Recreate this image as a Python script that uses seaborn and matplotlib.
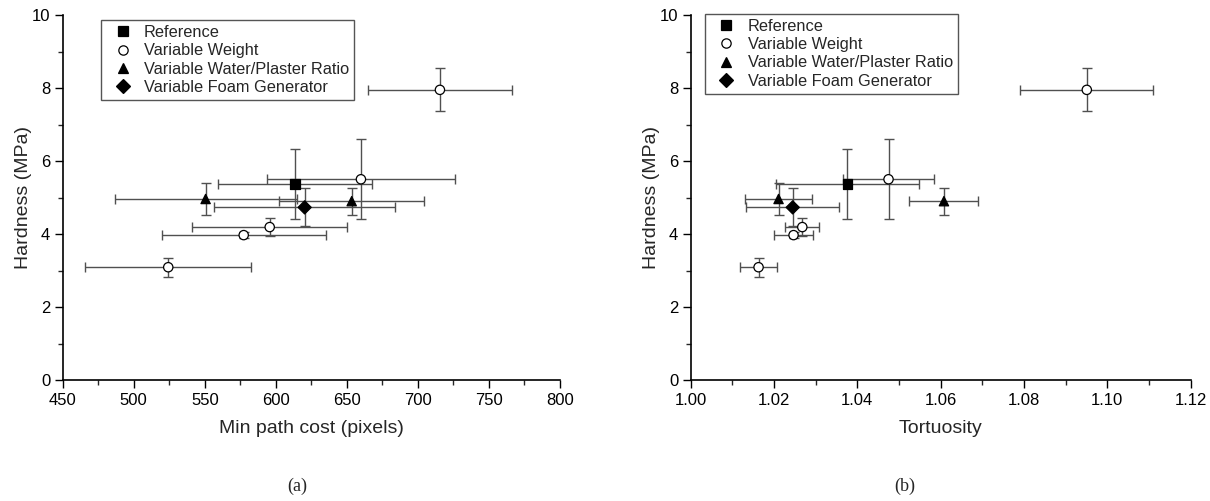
import pandas as pd
import matplotlib
matplotlib.use("Agg")
import matplotlib.pyplot as plt
from matplotlib.ticker import MultipleLocator, FormatStrFormatter
import seaborn as sns

# Data
groups = ["Reference",
          "Variable Weight", "Variable Weight", "Variable Weight", "Variable Weight", "Variable Weight",
          "Variable Water/Plaster Ratio", "Variable Water/Plaster Ratio",
          "Variable Foam Generator"]
hardness = [5.37, 7.95, 5.50, 4.19, 3.97, 3.09, 4.96, 4.90, 4.73]
hardness_err = [0.95, 0.59, 1.09, 0.24, 0.08, 0.26, 0.45, 0.37, 0.52]
path_cost = [613.5, 715.5, 659.9, 595.7, 577.4, 524.3, 550.6, 653.4, 620.3]
path_cost_err = [54.0, 50.5, 66.0, 54.4, 57.6, 58.4, 64.0, 51.0, 63.5]
tortuosity = [1.0376, 1.0951, 1.0475, 1.0268, 1.0247, 1.0163, 1.0211, 1.0608, 1.0245]
tortuosity_err = [0.0172, 0.0160, 0.0110, 0.0041, 0.0047, 0.0044, 0.0080, 0.0083, 0.0112]

df = pd.DataFrame({"group": groups, "hardness": hardness, "hardness_err": hardness_err,
                   "path_cost": path_cost, "path_cost_err": path_cost_err,
                   "tortuosity": tortuosity, "tortuosity_err": tortuosity_err})

group_order = ["Reference", "Variable Weight", "Variable Water/Plaster Ratio", "Variable Foam Generator"]
markers = {"Reference": "s", "Variable Weight": "o",
           "Variable Water/Plaster Ratio": "^", "Variable Foam Generator": "D"}
palette = {"Reference": "black", "Variable Weight": "white",
           "Variable Water/Plaster Ratio": "black", "Variable Foam Generator": "black"}

sns.set_style("ticks")
plt.rcParams["font.family"] = ["Liberation Sans", "DejaVu Sans"]

fig = plt.figure(figsize=(12.1, 5.01), dpi=100)
ax1 = fig.add_axes([0.0518, 0.2415, 0.411, 0.7285])
ax2 = fig.add_axes([0.5708, 0.2415, 0.4131, 0.7285])

panels = [(ax1, "path_cost", "Min path cost (pixels)", (450, 800), 50, 25, (0.078, 0.986), "(a)", 0.2455),
          (ax2, "tortuosity", "Tortuosity", (1.00, 1.12), 0.02, 0.01, (0.0286, 1.003), "(b)", 0.748)]

for ax, xcol, xlabel, xlim, xmaj, xmin, leg_anchor, tag, tag_x in panels:
    ax.errorbar(df[xcol], df["hardness"], xerr=df[xcol + "_err"], yerr=df["hardness_err"],
                fmt="none", ecolor="#505050", elinewidth=1, capsize=3.5, capthick=1, zorder=1)
    sns.scatterplot(data=df, x=xcol, y="hardness", hue="group", style="group",
                    hue_order=group_order, style_order=group_order,
                    markers=markers, palette=palette, s=45, edgecolor="black",
                    linewidth=0.9, zorder=3, ax=ax)
    ax.set_xlim(*xlim)
    ax.set_ylim(0, 10)
    ax.xaxis.set_major_locator(MultipleLocator(xmaj))
    ax.xaxis.set_minor_locator(MultipleLocator(xmin))
    ax.yaxis.set_major_locator(MultipleLocator(2))
    ax.yaxis.set_minor_locator(MultipleLocator(1))
    if xcol == "tortuosity":
        ax.xaxis.set_major_formatter(FormatStrFormatter("%.2f"))
    ax.tick_params(which="major", direction="out", length=6, width=1, pad=3,
                   labelsize=12, colors="black")
    ax.tick_params(which="minor", direction="out", length=3.5, width=1)
    for side in ["left", "bottom"]:
        ax.spines[side].set_linewidth(1.2)
        ax.spines[side].set_color("black")
    sns.despine(ax=ax)
    ax.set_xlabel(xlabel, fontsize=14, labelpad=9)
    ax.set_ylabel("Hardness (MPa)", fontsize=14, labelpad=0)

    handles, labels = ax.get_legend_handles_labels()
    leg = ax.legend(handles, labels, loc="upper left", bbox_to_anchor=leg_anchor,
                    fontsize=11.8, frameon=True, fancybox=False, borderpad=0.3,
                    handletextpad=0.3, labelspacing=0.2, borderaxespad=0, markerscale=1.0)
    leg.get_frame().set_edgecolor("#555555")
    leg.get_frame().set_linewidth(1)
    leg.get_frame().set_alpha(1)

    fig.text(tag_x, 0.029, tag, ha="center", va="center", fontsize=13,
             family=["Liberation Serif", "DejaVu Serif"])

fig.savefig("out.png", dpi=100)
